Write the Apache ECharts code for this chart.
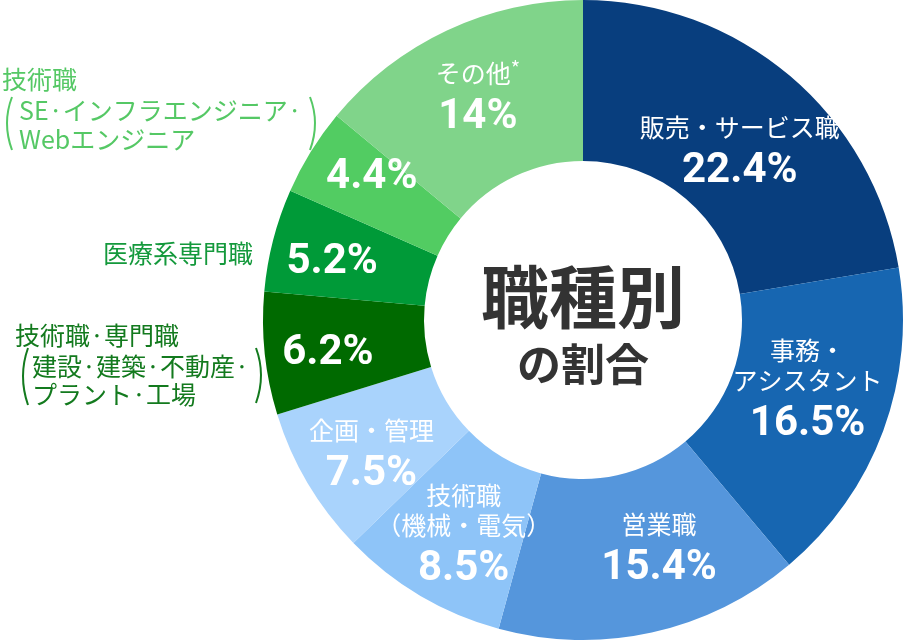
<!DOCTYPE html>
<html><head><meta charset="utf-8">
<script src="https://cdn.jsdelivr.net/npm/echarts@6/dist/echarts.min.js"></script>
<style>html,body{margin:0;padding:0;background:#fff}#c{width:907px;height:642px}</style>
</head><body><div id="c"></div>
<script>
// ---- data ----
const categories = ['販売・サービス職','事務・アシスタント','営業職','技術職（機械・電気）','企画・管理','技術職·専門職（建設·建築·不動産·プラント·工場）','医療系専門職','技術職（SE·インフラエンジニア·Webエンジニア）','その他*'];
const values = [22.4, 16.5, 15.4, 8.5, 7.5, 6.2, 5.2, 4.4, 14];
const innerNames = ['販売・サービス職','事務・\nアシスタント','営業職','技術職\n（機械・電気）','企画・管理','','','','その他*'];
const outerLabels = [null,null,null,null,null,
  ['技術職·専門職','建設·建築·不動産·','プラント·工場'],
  ['医療系専門職'],
  ['技術職','SE·インフラエンジニア·','Webエンジニア'],
  null];
const titleLines = ['職種別','の割合'];

// ---- styles ----
const colors = ['#083e7e','#1766b1','#5596dc','#8ec4f8','#a9d3fc','#006a00','#009a38','#52cc62','#80d48a'];
const labelOffsets = [[0,22],[-3,-9],[24,-3],[4,11],[-3,16],[-14,8],[-16,3],[-5,-15],[-2,2]];
const outerColors = {5:'#137a1e',6:'#14993c',7:'#55c865'};

const data = categories.map((c,i)=>({
  name:c, value:values[i],
  itemStyle:{color:colors[i]},
  label:{offset:labelOffsets[i]}
}));

function fmt(p){
  const n = innerNames[p.dataIndex];
  let s = '';
  if(n){
    s = n.split('\n').map(l=>{
      if(l.indexOf('*')>=0){ return '{n|'+l.replace('*','')+'}{s|*}'; }
      return '{n|'+l+'}';
    }).join('\n') + '\n';
  }
  return s + '{v|' + p.value + '%}';
}

const F = '25px "Noto Sans CJK JP"';
const graphics = [];
graphics.push({type:'text',x:583,y:297,style:{text:titleLines[0],fill:'#333',font:'bold 68px "Noto Sans CJK JP"',textAlign:'center',textVerticalAlign:'middle'}});
graphics.push({type:'text',x:583,y:364,style:{text:titleLines[1],fill:'#333',font:'bold 44px "Noto Sans CJK JP"',textAlign:'center',textVerticalAlign:'middle'}});

// outer labels for green slices
const ol7 = outerLabels[7];
graphics.push({type:'text',x:2,y:79,style:{text:ol7[0],fill:outerColors[7],font:F,textVerticalAlign:'middle'}});
graphics.push({type:'text',x:19,y:110,style:{text:ol7[1],fill:outerColors[7],font:F,textVerticalAlign:'middle'}});
graphics.push({type:'text',x:19,y:139,style:{text:ol7[2],fill:outerColors[7],font:F,textVerticalAlign:'middle'}});
graphics.push({type:'bezierCurve',shape:{x1:12,y1:97,x2:12,y2:150,cpx1:2,cpy1:123},style:{stroke:outerColors[7],lineWidth:2,fill:null}});
graphics.push({type:'bezierCurve',shape:{x1:310,y1:97,x2:310,y2:150,cpx1:320,cpy1:123},style:{stroke:outerColors[7],lineWidth:2,fill:null}});

const ol6 = outerLabels[6];
graphics.push({type:'text',x:253,y:253,style:{text:ol6[0],fill:outerColors[6],font:F,textAlign:'right',textVerticalAlign:'middle'}});

const ol5 = outerLabels[5];
graphics.push({type:'text',x:15,y:335,style:{text:ol5[0],fill:outerColors[5],font:F,textVerticalAlign:'middle'}});
graphics.push({type:'text',x:32,y:366,style:{text:ol5[1],fill:outerColors[5],font:F,textVerticalAlign:'middle'}});
graphics.push({type:'text',x:32,y:394,style:{text:ol5[2],fill:outerColors[5],font:F,textVerticalAlign:'middle'}});
graphics.push({type:'bezierCurve',shape:{x1:28,y1:348,x2:28,y2:405,cpx1:18,cpy1:376},style:{stroke:outerColors[5],lineWidth:2,fill:null}});
graphics.push({type:'bezierCurve',shape:{x1:256,y1:348,x2:256,y2:403,cpx1:266,cpy1:375},style:{stroke:outerColors[5],lineWidth:2,fill:null}});

const chart = echarts.init(document.getElementById('c'), null, {renderer:'canvas'});
chart.setOption({
  animation:false,
  backgroundColor:'#fff',
  series:[{
    type:'pie',
    center:[583,320],
    radius:[159,320],
    startAngle:90,
    clockwise:true,
    silent:true,
    avoidLabelOverlap:false,
    itemStyle:{borderWidth:0},
    label:{
      show:true, position:'inside', formatter:fmt, color:'#fff', align:'center',
      rich:{
        n:{fontSize:25,lineHeight:30,color:'#fff',fontFamily:'"Noto Sans CJK JP"',align:'center'},
        s:{fontSize:20,lineHeight:30,color:'#fff',fontFamily:'"Noto Sans CJK JP"',verticalAlign:'top'},
        v:{fontSize:42,lineHeight:58,color:'#fff',fontWeight:'bold',fontFamily:'Roboto',align:'center'}
      }
    },
    labelLayout:{hideOverlap:false},
    labelLine:{show:false},
    emphasis:{disabled:true},
    data:data
  }],
  graphic:graphics
});
</script></body></html>
